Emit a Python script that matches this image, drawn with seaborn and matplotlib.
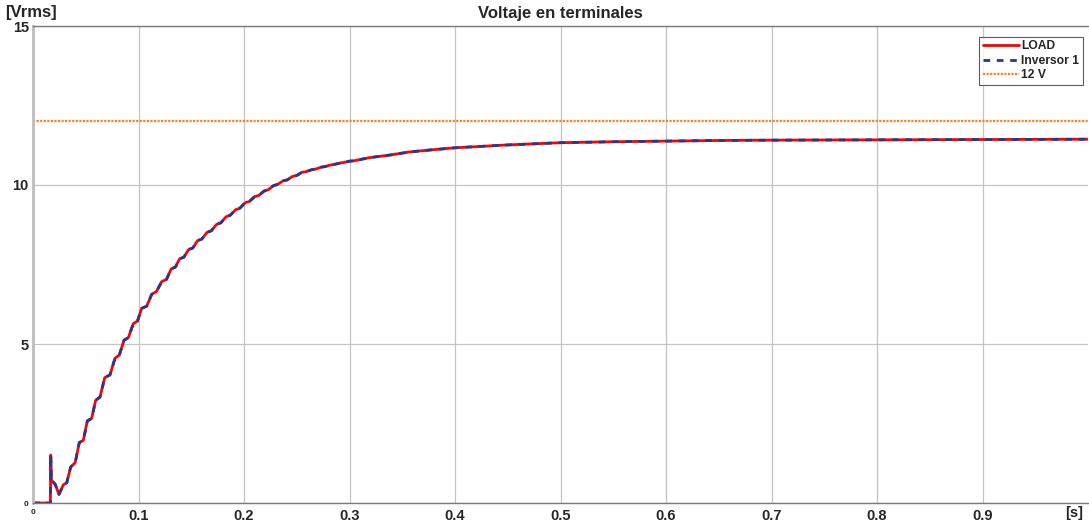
import numpy as np
import pandas as pd
import matplotlib
matplotlib.use("Agg")
import matplotlib.pyplot as plt
import seaborn as sns

# tiempo [s] y voltaje rms [V]
t_s = [0.0, 0.0165, 0.0168, 0.0175, 0.021, 0.0246, 0.0287, 0.032, 0.0357, 0.040,
       0.0439, 0.0477, 0.0515, 0.0556, 0.0594, 0.0635, 0.068, 0.073, 0.0777, 0.0818,
       0.0863, 0.0904, 0.0951, 0.099, 0.103, 0.1078, 0.1125, 0.117, 0.122, 0.1265,
       0.131, 0.135, 0.139, 0.143, 0.1475, 0.1515, 0.156, 0.160, 0.165, 0.169,
       0.174, 0.178, 0.183, 0.187, 0.192, 0.196, 0.201, 0.205, 0.210, 0.214,
       0.219, 0.223, 0.228, 0.232, 0.237, 0.241, 0.246, 0.250, 0.255, 0.259,
       0.264, 0.268, 0.273, 0.277, 0.282, 0.286, 0.291, 0.295, 0.300, 0.304,
       0.319, 0.338, 0.357, 0.376, 0.40, 0.45, 0.50, 0.55, 0.60, 0.65,
       0.70, 0.80, 0.90, 1.00]
v_load = [0.0, 0.0, 1.51, 0.72, 0.59, 0.27, 0.57, 0.64, 1.13, 1.27,
          1.90, 1.97, 2.58, 2.66, 3.23, 3.33, 3.94, 4.03, 4.55, 4.65,
          5.12, 5.20, 5.64, 5.72, 6.12, 6.19, 6.56, 6.65, 6.96, 7.03,
          7.36, 7.42, 7.68, 7.73, 7.97, 8.02, 8.25, 8.30, 8.51, 8.56,
          8.76, 8.81, 9.00, 9.05, 9.22, 9.27, 9.44, 9.48, 9.63, 9.67,
          9.81, 9.85, 9.98, 10.02, 10.13, 10.16, 10.27, 10.30, 10.40, 10.42,
          10.48, 10.50, 10.56, 10.58, 10.63, 10.65, 10.69, 10.71, 10.75, 10.76,
          10.86, 10.94, 11.04, 11.10, 11.17, 11.26, 11.33, 11.36, 11.38, 11.40,
          11.41, 11.42, 11.43, 11.44]
v_inv1 = list(v_load)
t_ref = [0.0, 1.0]
v_ref = [12.0, 12.0]

x_ticks = [0, 0.1, 0.2, 0.3, 0.4, 0.5, 0.6, 0.7, 0.8, 0.9]
x_labels = ["0", "0.1", "0.2", "0.3", "0.4", "0.5", "0.6", "0.7", "0.8", "0.9"]
y_ticks = [0, 5, 10, 15]
y_labels = ["0", "5", "10", "15"]

sns.set_style("white")
plt.rcParams['font.family'] = ['Liberation Sans', 'DejaVu Sans']
plt.rcParams['font.weight'] = 'bold'

W, H = 1089, 522
fig = plt.figure(figsize=(W / 100, H / 100), dpi=100)
ax = fig.add_axes([33 / W, 19 / H, 1055 / W, 477 / H])

df = pd.DataFrame({"t": t_s, "load": v_load, "inv": v_inv1})
ref = pd.DataFrame({"t": t_ref, "v": v_ref})

sns.lineplot(data=df, x="t", y="load", ax=ax, color="#ff0000", lw=2.0, label="LOAD")
sns.lineplot(data=df, x="t", y="inv", ax=ax, color="#1f3a93", lw=2.0,
             linestyle=(0, (2.4, 2.4)), label="Inversor 1")
sns.lineplot(data=ref, x="t", y="v", ax=ax, color="#ff7f27", lw=1.6,
             linestyle=(0, (1, 0.6)), label="12 V")

ax.set_xlim(0, 1)
ax.set_ylim(0, 15)
ax.set_xticks(x_ticks)
ax.set_xticklabels(x_labels)
ax.set_yticks(y_ticks)
ax.set_yticklabels(y_labels)
ax.tick_params(axis='both', length=0, labelsize=10.5)
ax.tick_params(axis='x', pad=4)
ax.tick_params(axis='y', pad=3)
for lab in ax.get_xticklabels() + ax.get_yticklabels():
    lab.set_fontweight('bold')
    if lab.get_text() == "0":
        lab.set_fontsize(6)
ax.set_xlabel("")
ax.set_ylabel("")
ax.grid(True, color="#c4c4c4", lw=0.9)

for side in ["top", "bottom"]:
    ax.spines[side].set_color("#7a7a7a")
    ax.spines[side].set_linewidth(1.0)
ax.spines["left"].set_color("#bdbdbd")
ax.spines["left"].set_linewidth(2.0)
ax.spines["right"].set_visible(False)

ax.set_title("Voltaje en terminales", fontsize=12, fontweight='bold', pad=6)
fig.text(5 / W, 1 - 13 / H, "[Vrms]", fontsize=12, fontweight='bold', va='center', ha='left')
fig.text(1074 / W, 1 - 513 / H, "[s]", fontsize=10.5, fontweight='bold', va='center', ha='center')

leg = ax.legend(loc="upper right", bbox_to_anchor=(0.9985, 0.985), fontsize=8.7,
                handlelength=3.0, handletextpad=0.2, borderpad=0.3, labelspacing=0.2,
                frameon=True, fancybox=False, borderaxespad=0.3)
leg.get_frame().set_edgecolor("#333333")
leg.get_frame().set_linewidth(0.8)
for txt in leg.get_texts():
    txt.set_fontweight('bold')

fig.savefig("out.png", dpi=100)
